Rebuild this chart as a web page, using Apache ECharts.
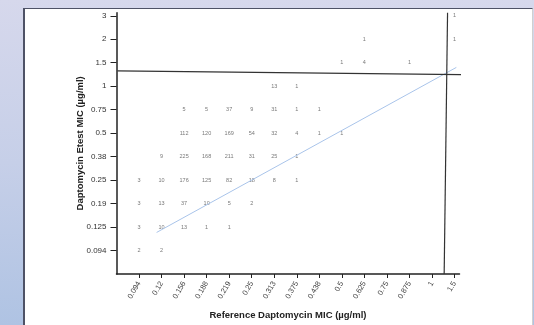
<!DOCTYPE html>
<html><head><meta charset="utf-8">
<script src="https://cdn.jsdelivr.net/npm/echarts@6/dist/echarts.min.js"></script>
<style>
html,body{margin:0;padding:0;}
#wrap{position:relative;width:534px;height:325px;background:linear-gradient(to bottom,#d6d8ec 0%,#c6cfe8 50%,#afc3e3 100%);overflow:hidden;}
#panel{position:absolute;left:23px;top:8px;width:510px;height:317px;background:#fff;border-left:2px solid #4e5266;border-top:1px solid #4e5266;border-right:1px solid #d0d0d0;box-sizing:border-box;}
#chart{position:absolute;left:0;top:0;width:534px;height:325px;}
</style></head>
<body>
<div id="wrap"><div id="panel"></div><div id="chart"></div></div>
<script>
// Reference MIC (x) categories and Etest MIC (y) categories, bottom to top
const xLabels = ['0.094','0.12','0.156','0.188','0.219','0.25','0.313','0.375','0.438','0.5','0.625','0.75','0.875','1','1.5'];
const yLabels = ['0.094','0.125','0.19','0.25','0.38','0.5','0.75','1','1.5','2','3'];
// counts per Etest row (same order as yLabels), indexed by x category
const row_0094 = [2,2];
const row_0125 = [3,10,13,1,1];
const row_019  = [3,13,37,10,5,2];
const row_025  = [3,10,176,125,82,18,8,1];
const row_038  = [null,9,225,168,211,31,25,1];
const row_05   = [null,null,112,120,169,54,32,4,1,1];
const row_075  = [null,null,5,5,37,9,31,1,1];
const row_1    = [null,null,null,null,null,null,13,1];
const row_15   = [null,null,null,null,null,null,null,null,null,1,4,null,1];
const row_2    = [null,null,null,null,null,null,null,null,null,null,1,null,null,null,1];
const row_3    = [null,null,null,null,null,null,null,null,null,null,null,null,null,null,1];
const rows = [row_0094,row_0125,row_019,row_025,row_038,row_05,row_075,row_1,row_15,row_2,row_3];
// reference lines (in category-index units)
const breakpointH = [[0.04,8.655],[15.6,8.49]];
const breakpointV = [[14.69,11.13],[14.54,0]];
const fitLine = [[1.78,1.77],[15.08,8.80]];

const cells = [];
rows.forEach((r, yi) => r.forEach((v, xi) => { if (v != null) cells.push([xi+1, yi+1, v]); }));
const xIdx = xLabels.map((_, i) => i+1);
const yIdx = yLabels.map((_, i) => i+1);
const font = 'Liberation Sans, Arial, sans-serif';

const chart = echarts.init(document.getElementById('chart'), null, {renderer:'canvas'});
chart.setOption({
  animation:false,
  backgroundColor:'transparent',
  grid:{left:116.5, right:74.5, top:12.7, bottom:50},
  xAxis:{
    type:'value', min:0, max:15.22,
    name:'Reference Daptomycin MIC (µg/ml)', nameLocation:'middle', nameGap:36, nameMoveOverlap:false,
    nameTextStyle:{fontFamily:font, fontWeight:'bold', fontSize:9.5, color:'#222'},
    axisLine:{show:true, onZero:false, lineStyle:{color:'#222', width:1.5}},
    axisTick:{show:true, customValues:xIdx, length:4, lineStyle:{color:'#222', width:1}},
    axisLabel:{customValues:xIdx, formatter:v=>xLabels[v-1]||'', rotate:60, fontSize:7.5, color:'#444', fontFamily:font, margin:8},
    splitLine:{show:false}
  },
  yAxis:{
    type:'value', min:0, max:11.13,
    name:'Daptomycin Etest MIC (µg/ml)', nameLocation:'middle', nameGap:31, nameMoveOverlap:false,
    nameTextStyle:{fontFamily:font, fontWeight:'bold', fontSize:9.5, color:'#222'},
    axisLine:{show:true, onZero:false, lineStyle:{color:'#222', width:1.5}},
    axisTick:{show:true, customValues:yIdx, length:6, lineStyle:{color:'#222', width:1}},
    axisLabel:{customValues:yIdx, formatter:v=>yLabels[v-1]||'', fontSize:8, color:'#333', fontFamily:font, margin:10},
    splitLine:{show:false}
  },
  series:[
    {type:'line', data:fitLine, symbol:'none', clip:false, silent:true,
     lineStyle:{color:'#a9c4ea', width:1}},
    {type:'line', data:breakpointH, symbol:'none', clip:false, silent:true,
     lineStyle:{color:'#333', width:1.2}},
    {type:'line', data:breakpointV, symbol:'none', clip:false, silent:true,
     lineStyle:{color:'#333', width:1.2}},
    {type:'scatter', data:cells, symbolSize:0, silent:true, clip:false,
     label:{show:true, position:'inside', formatter:p=>p.value[2], fontSize:5.5, color:'#555', fontFamily:font}}
  ]
});
</script>
</body></html>
